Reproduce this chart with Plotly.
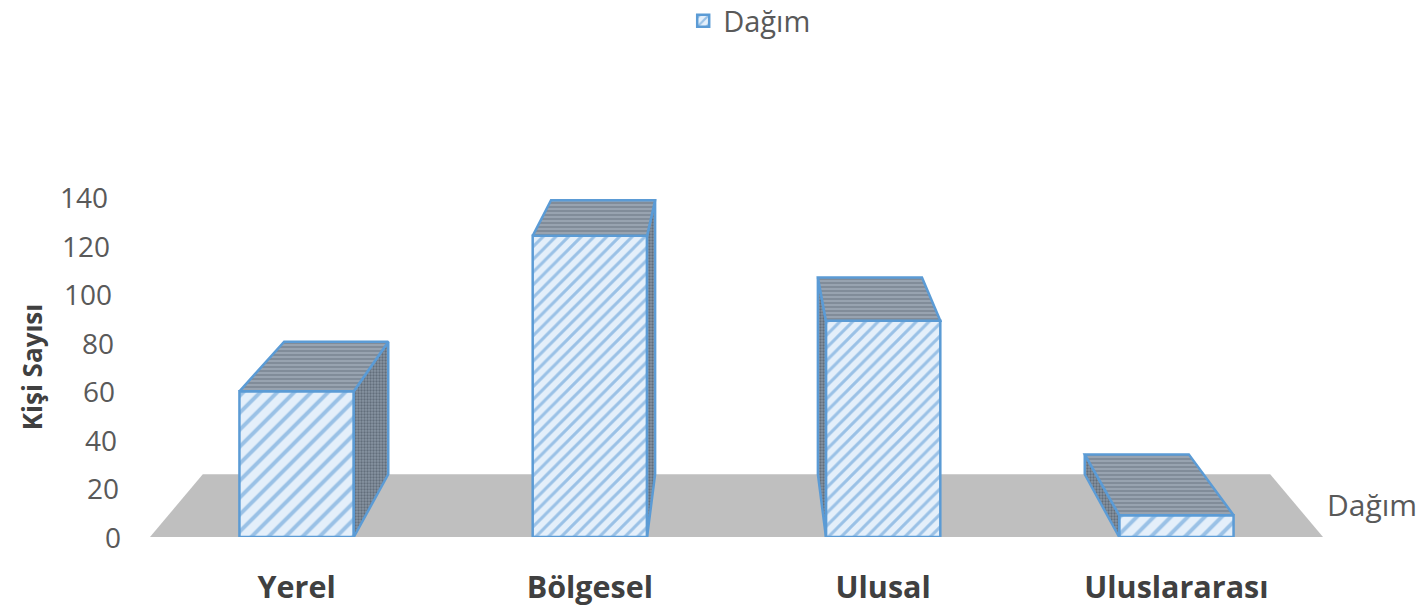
import plotly.graph_objects as go

# Chart data
categories = ["Yerel", "Bölgesel", "Ulusal", "Uluslararası"]
values = [60, 124, 89, 9]
series_name = "Dağım"
y_ticks = [0, 20, 40, 60, 80, 100, 120, 140]

# Fake 3D settings - back of a column is pulled towards a vanishing point
BAR_WIDTH = 0.39
DEPTH = 0.09
VANISH_X = 1.5
VANISH_Y = 287

BLUE = "#5B9BD5"


def back(x, y):
    return x + DEPTH * (VANISH_X - x), y + DEPTH * (VANISH_Y - y)


def face(points, pattern, name):
    xs = [p[0] for p in points] + [points[0][0]]
    ys = [p[1] for p in points] + [points[0][1]]
    return go.Scatter(
        x=xs, y=ys,
        mode="lines",
        fill="toself",
        fillpattern=pattern,
        line=dict(color=BLUE, width=2.5),
        hoverinfo="skip",
        showlegend=False,
        name=name,
    )


top_pattern = dict(shape="-", fgcolor="#56606b", bgcolor="#98a3b0", size=4, solidity=0.35)
side_pattern = dict(shape=".", fgcolor="#3d4854", bgcolor="#8794a2", size=3, solidity=0.45)

fig = go.Figure()

# Front faces
fig.add_trace(go.Bar(
    x=list(range(len(categories))),
    y=values,
    width=BAR_WIDTH,
    name=series_name,
    marker=dict(
        color="#E4EFFA",
        line=dict(color=BLUE, width=2.5),
        pattern=dict(shape="/", fgcolor="#4f93d2", bgcolor="#E4EFFA", size=[12, 9, 9, 12], solidity=0.33),
    ),
))

# Side and top faces
for i, v in enumerate(values):
    left = i - BAR_WIDTH / 2
    right = i + BAR_WIDTH / 2
    # the visible side depends on which side of the vanishing point the bar is
    edge = right if i < VANISH_X else left
    fig.add_trace(face(
        [(edge, 0), (edge, v), back(edge, v), back(edge, 0)],
        side_pattern, "side",
    ))
    fig.add_trace(face(
        [(left, v), (right, v), back(right, v), back(left, v)],
        top_pattern, "top",
    ))

# Grey floor
floor_l, floor_r = -0.5, 3.5
bl = back(floor_l, 0)
br = back(floor_r, 0)
fig.add_shape(
    type="path",
    path=f"M {floor_l} 0 L {floor_r} 0 L {br[0]} {br[1]} L {bl[0]} {bl[1]} Z",
    fillcolor="#BFBFBF",
    line_width=0,
    layer="below",
)

# Label of the depth axis
fig.add_annotation(
    text=series_name,
    xref="paper", yref="paper",
    x=1.002, y=0.095,
    xanchor="left", yanchor="middle",
    showarrow=False,
    font=dict(size=30, color="#595959"),
)

# The value axis leans in the original, so its labels do not line up
for t in y_ticks:
    fig.add_annotation(
        text=str(t),
        xref="paper", yref="y",
        x=0, y=t,
        xshift=-27 - 13 * t / y_ticks[-1],
        xanchor="right", yanchor="middle",
        showarrow=False,
        font=dict(size=28, color="#595959"),
    )

fig.update_layout(
    width=1428,
    height=608,
    margin=dict(l=150, r=105, t=197, b=71),
    paper_bgcolor="white",
    plot_bgcolor="white",
    font=dict(family="Open Sans", color="#595959"),
    showlegend=True,
    legend=dict(
        orientation="h",
        xref="container", yref="container",
        x=0.525, y=0.9655,
        xanchor="center", yanchor="middle",
        font=dict(size=29, color="#595959"),
        itemwidth=30,
    ),
    xaxis=dict(
        range=[-0.5, 3.5],
        tickvals=list(range(len(categories))),
        ticktext=[f"<b>{c}</b>" for c in categories],
        tickfont=dict(size=30.5, color="#404040"),
        ticks="outside",
        ticklen=23,
        tickcolor="rgba(0,0,0,0)",
        showgrid=False,
        zeroline=False,
        automargin=False,
    ),
    yaxis=dict(
        range=[0, 140],
        tickvals=y_ticks,
        showticklabels=False,
        showgrid=False,
        zeroline=False,
        title=dict(text="<b>Kişi Sayısı</b>", font=dict(size=26, color="#404040"), standoff=98),
    ),
)

fig.write_html("out.html", config=dict(displayModeBar=False), post_script="document.body.style.margin='0';")
